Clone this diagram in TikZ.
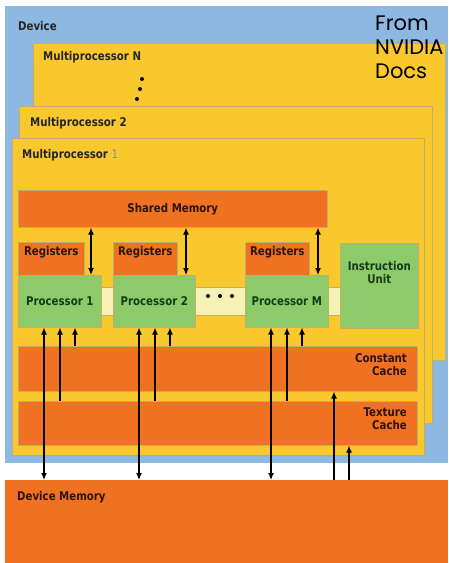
\documentclass[tikz,border=0pt]{standalone}
\usepackage{fontspec}
\setmainfont[FakeStretch=0.85]{DejaVu Sans}
\newfontfamily\docsfont{Poppins}
\usetikzlibrary{arrows.meta}
\definecolor{devblue}{HTML}{8CB8E2}
\definecolor{mpyellow}{HTML}{F9C82C}
\definecolor{memorange}{HTML}{F07122}
\definecolor{procgreen}{HTML}{8DCB6A}
\definecolor{barcream}{HTML}{F6F1B5}
\definecolor{edgegray}{HTML}{C4AC6C}
\definecolor{procdark}{HTML}{173A17}
\definecolor{memdark}{HTML}{2B1606}

\begin{document}
\begin{tikzpicture}[x=1pt, y=-1pt,
    every node/.style={font=\bfseries\fontsize{12}{13}\selectfont},
    blk/.style={draw=edgegray, line width=0.6pt, inner sep=0pt, anchor=north west},
    mp/.style={blk, fill=mpyellow},
    mem/.style={blk, fill=memorange, text=memdark},
    proc/.style={blk, fill=procgreen, text=procdark},
    tag/.style={anchor=west, inner sep=0pt, text=black!85},
    dbl/.style={{Latex[length=7pt,width=6pt]}-{Latex[length=7pt,width=6pt]}, line width=1.2pt},
    up/.style={-{Latex[length=7pt,width=6pt]}, line width=1.2pt}]
    \useasboundingbox (0,0) rectangle (448,563);
    \node[blk, draw=none, fill=devblue, minimum width=443, minimum height=457] (dev) at (5,6) {};
    \node[tag] (devlbl) at (18,26) {Device};
    \node[mp, minimum width=412, minimum height=317] (mpn) at (33,43) {};
    \node[tag] (mpnlbl) at (43,57) {Multiprocessor N};
    \fill (142,79) circle (2pt) (140,89) circle (2pt) (137,99) circle (2pt);
    \node[mp, minimum width=413, minimum height=317] (mp2) at (19,106) {};
    \node[tag] (mp2lbl) at (30,123) {Multiprocessor 2};
    \node[mp, minimum width=412, minimum height=317] (mp1) at (12,138) {};
    \node[tag] (mp1lbl) at (22,155) {Multiprocessor {\mdseries\color{black!45}1}};
    \node[anchor=north west, align=left, inner sep=0pt, font=\docsfont\fontsize{21}{24}\selectfont] (src) at (375,16) {From\\NVIDIA\\Docs};
    \node[mem, minimum width=309, minimum height=37] (smem) at (18,190) {Shared Memory};
    \node[blk, fill=barcream, minimum width=239, minimum height=28] (bar) at (101,287) {};
    \node[mem, minimum width=66, minimum height=33, label={[anchor=north, inner sep=0pt, yshift=-4pt, text=memdark]north:Registers}] (reg1) at (18,242) {};
    \node[mem, minimum width=64, minimum height=33, label={[anchor=north, inner sep=0pt, yshift=-4pt, text=memdark]north:Registers}] (reg2) at (113,242) {};
    \node[mem, minimum width=64, minimum height=33, label={[anchor=north, inner sep=0pt, yshift=-4pt, text=memdark]north:Registers}] (reg3) at (245,242) {};
    \node[proc, minimum width=83, minimum height=52] (p1) at (18,275) {Processor 1};
    \node[proc, minimum width=82, minimum height=52] (p2) at (113,275) {Processor 2};
    \node[proc, minimum width=83, minimum height=52] (pm) at (245,275) {Processor M};
    \fill (208,296) circle (2pt) (220,296) circle (2pt) (232,296) circle (2pt);
    \node[proc, minimum width=78, minimum height=85, label={[anchor=north, align=center, inner sep=0pt, yshift=-18pt, text=procdark]north:Instruction\\Unit}] (iu) at (340,243) {};
    \node[mem, minimum width=399, minimum height=45] (ccache) at (18,346) {};
    \node[anchor=north east, align=right, inner sep=0pt, text=memdark] (cclbl) at (407,353) {Constant\\Cache};
    \node[mem, minimum width=399, minimum height=44] (tcache) at (18,401) {};
    \node[anchor=north east, align=right, inner sep=0pt, text=memdark] (tclbl) at (407,408) {Texture\\Cache};
    \node[mem, draw=none, minimum width=443, minimum height=83] (dmem) at (5,480) {};
    \node[tag, text=memdark] (dmlbl) at (17,497) {Device Memory};
    \foreach \p in {p1,p2,pm} {
        \coordinate (sm\p) at ([xshift=73pt]\p.north west);
        \coordinate (dm\p) at ([xshift=26pt]\p.south west);
        \coordinate (tc\p) at ([xshift=42pt]\p.south west);
        \coordinate (cc\p) at ([xshift=57pt]\p.south west);
        \draw[dbl] (sm\p) -- (sm\p |- smem.south);
        \draw[dbl] (dm\p) -- (dm\p |- dmem.north);
        \draw[up] (tc\p |- tcache.north) -- (tc\p);
        \draw[up] (cc\p |- ccache.north) -- (cc\p);
    }
    \coordinate (ccin) at ([xshift=329pt]dmem.north west);
    \coordinate (tcin) at ([xshift=344pt]dmem.north west);
    \draw[up] (ccin) -- (ccin |- ccache.south);
    \draw[up] (tcin) -- (tcin |- tcache.south);
\end{tikzpicture}
\end{document}
